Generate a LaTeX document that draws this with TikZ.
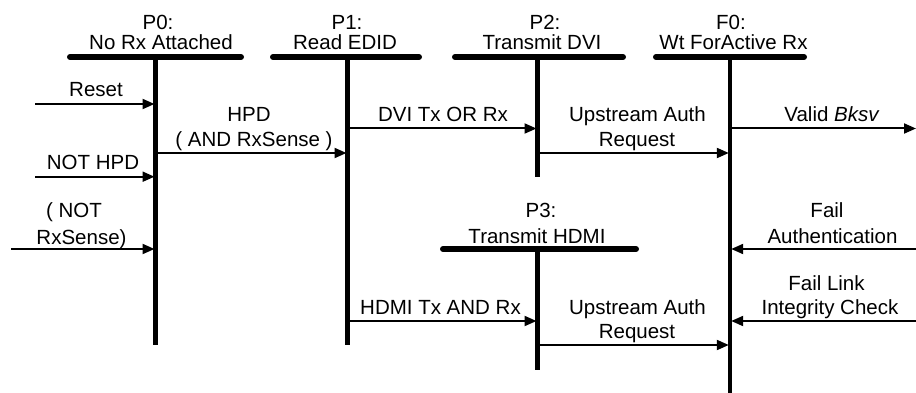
\documentclass[tikz,border=0pt]{standalone}
\usepackage{fontspec}
\setmainfont{Liberation Sans}
\usetikzlibrary{arrows.meta}
\begin{document}
\begin{tikzpicture}[x=1pt,y=-1pt,
  bar/.style={line width=6pt,line cap=round},
  life/.style={line width=4.5pt},
  msg/.style={line width=2pt,-{Triangle[length=12pt,width=10pt]}},
  lbl/.style={font=\fontsize{20.5}{25}\selectfont,inner sep=0pt,anchor=base}]
\useasboundingbox (0,0) rectangle (916,393);
% headers
\node[lbl] (h0a) at (158,30) {P0:};
\node[lbl] (h0b) at (161,50) {No Rx Attached};
\node[lbl] (h1a) at (347,30) {P1:};
\node[lbl] (h1b) at (345,50) {Read EDID};
\node[lbl] (h2a) at (545,30) {P2:};
\node[lbl] (h2b) at (542,50) {Transmit DVI};
\node[lbl] (hfa) at (731,30) {F0:};
\node[lbl] (hfb) at (733.5,50) {Wt ForActive Rx};
\node[lbl] (h3a) at (541,218) {P3:};
\node[lbl] (h3b) at (537,243) {Transmit HDMI};
% bars
\draw[bar] (70,57) coordinate (b0l) -- (241,57) coordinate (b0r);
\draw[bar] (273,57) coordinate (b1l) -- (419,57) coordinate (b1r);
\draw[bar] (455,57) coordinate (b2l) -- (623,57) coordinate (b2r);
\draw[bar] (656,57) coordinate (bfl) -- (804,57) coordinate (bfr);
\draw[bar] (443,249) coordinate (b3l) -- (636,249) coordinate (b3r);
% lifelines
\draw[life] (155.7,57) coordinate (l0t) -- (155.7,345) coordinate (l0b);
\draw[life] (347.7,57) coordinate (l1t) -- (347.7,345) coordinate (l1b);
\draw[life] (537.7,57) coordinate (l2t) -- (537.7,177) coordinate (l2b);
\draw[life] (730,57) coordinate (lft) -- (730,393) coordinate (lfb);
\draw[life] (537.7,249) coordinate (l3t) -- (537.7,370) coordinate (l3b);
% message endpoints
\coordinate (rs) at (35,104);   \coordinate (re) at (154.5,104);
\coordinate (ns) at (35,176.7); \coordinate (ne) at (154.5,176.7);
\coordinate (xs) at (11,249);   \coordinate (xe) at (154.5,249);
\coordinate (hs) at (155.7,153); \coordinate (he) at (346.5,153);
\coordinate (ds) at (347.7,128.5); \coordinate (de) at (536.5,128.5);
\coordinate (us) at (537.7,153); \coordinate (ue) at (728.8,153);
\coordinate (vs) at (730,128.5); \coordinate (ve) at (916,128.5);
\coordinate (fs) at (916,249); \coordinate (fe) at (731.2,249);
\coordinate (ls) at (916,321); \coordinate (le) at (731.2,321);
\coordinate (ms) at (347.7,321); \coordinate (me) at (536.5,321);
\coordinate (ws) at (537.7,345); \coordinate (we) at (728.8,345);
\draw[msg] (rs) -- (re);
\draw[msg] (ns) -- (ne);
\draw[msg] (xs) -- (xe);
\draw[msg] (hs) -- (he);
\draw[msg] (ds) -- (de);
\draw[msg] (us) -- (ue);
\draw[msg] (vs) -- (ve);
\draw[msg] (fs) -- (fe);
\draw[msg] (ls) -- (le);
\draw[msg] (ms) -- (me);
\draw[msg] (ws) -- (we);
% labels
\node[lbl] (tr) at (96,97) {Reset};
\node[lbl] (tn) at (93,170) {NOT HPD};
\node[lbl] (tx1) at (74,218) {( NOT};
\node[lbl] (tx2) at (81.5,244) {RxSense)};
\node[lbl] (th1) at (249,121.5) {HPD};
\node[lbl] (th2) at (254,146.5) {( AND RxSense )};
\node[lbl] (td) at (443,121.5) {DVI Tx OR Rx};
\node[lbl] (tu1) at (637.5,121.5) {Upstream Auth};
\node[lbl] (tu2) at (637,146.5) {Request};
\node[lbl] (tv) at (832,121.5) {Valid \textit{Bksv}};
\node[lbl] (tf1) at (827,217) {Fail};
\node[lbl] (tf2) at (832.5,243) {Authentication};
\node[lbl] (tl1) at (826.5,290) {Fail Link};
\node[lbl] (tl2) at (830,314) {Integrity Check};
\node[lbl] (tm) at (440.5,314) {HDMI Tx AND Rx};
\node[lbl] (tw1) at (637.5,314) {Upstream Auth};
\node[lbl] (tw2) at (637,338) {Request};
\end{tikzpicture}
\end{document}
